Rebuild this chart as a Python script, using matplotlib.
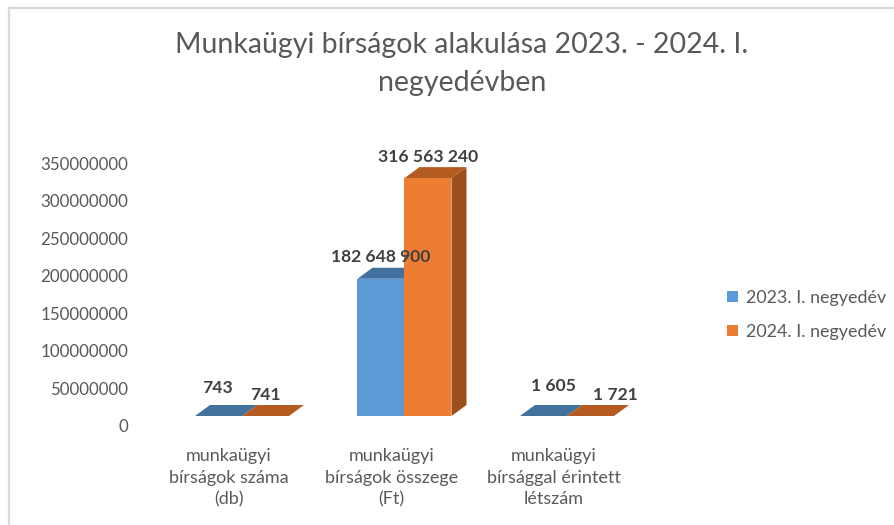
import matplotlib
matplotlib.use("Agg")
import matplotlib.pyplot as plt
from matplotlib.patches import Polygon, Patch
from matplotlib.lines import Line2D
from matplotlib.transforms import ScaledTranslation

plt.rcParams['font.family'] = ['Lato', 'DejaVu Sans']

# ---- data ----
title = "Munkaügyi bírságok alakulása 2023. - 2024. I.\nnegyedévben"
categories = ["munkaügyi\nbírságok száma\n(db)",
              "munkaügyi\nbírságok összege\n(Ft)",
              "munkaügyi\nbírsággal érintett\nlétszám"]
series_names = ["2023. I. negyedév", "2024. I. negyedév"]
values_2023 = [743, 182648900, 1605]
values_2024 = [741, 316563240, 1721]
yticks = [0, 50000000, 100000000, 150000000, 200000000, 250000000, 300000000, 350000000]

# ---- style ----
front_cols = ["#5B9BD5", "#ED7D31"]
top_cols = ["#41719C", "#B35B20"]
side_cols = ["#3E6A93", "#9C4E1B"]
text_grey = "#595959"
label_col = "#404040"

W, H, DPI = 895, 525, 100
fig = plt.figure(figsize=(W / DPI, H / DPI), dpi=DPI)
fig.patch.set_facecolor("white")
renderer = fig.canvas.get_renderer()


def fit_size(text, target_px, weight="normal"):
    t = fig.text(0, 0, text, fontsize=10, fontweight=weight)
    w = t.get_window_extent(renderer).width
    t.remove()
    return 10 * target_px / w


title_fs = fit_size(title.split("\n")[0], 570)
cat_fs = fit_size("bírságok összege", 134)
tick_fs = fit_size("350000000", 88)
leg_fs = fit_size(series_names[0], 140)
lab_fs = fit_size("316 563 240", 100, "bold")

# light grey chart border (top + left visible)
fig.add_artist(Line2D([8.5 / W, 8.5 / W], [0, 1 - 7.5 / H], color="#D9D9D9", lw=1.6,
                      transform=fig.transFigure))
fig.add_artist(Line2D([8.5 / W, 1], [1 - 7.5 / H, 1 - 7.5 / H], color="#D9D9D9", lw=1.6,
                      transform=fig.transFigure))

# axes placement (pixels)
ax_l, ax_r, ax_t, ax_b = 140, 670, 163, 426
ax = fig.add_axes([ax_l / W, 1 - ax_b / H, (ax_r - ax_l) / W, (ax_b - ax_t) / H])
cat_px0, cat_step = 242, 162.5
xlim = ((ax_l - cat_px0) / cat_step, (ax_r - cat_px0) / cat_step)
ylim = (0, 350000000)
ax.set_xlim(*xlim)
ax.set_ylim(*ylim)
for s in ax.spines.values():
    s.set_visible(False)

# pixel -> data conversions
px_x = (xlim[1] - xlim[0]) / (ax_r - ax_l)
px_y = (ylim[1] - ylim[0]) / (ax_b - ax_t)
bar_w = 47 * px_x
dx = 15 * px_x
dy = 11 * px_y

# bars are drawn 10 px above the value-axis baseline (Excel 3D floor)
shift = ax.transData + ScaledTranslation(0, 10 / DPI, fig.dpi_scale_trans)

for i in range(len(categories)):
    for k, vals in enumerate([values_2023, values_2024]):
        x0 = i + (k - 1) * bar_w
        x1 = x0 + bar_w
        v = vals[i]
        side = Polygon([(x1, 0), (x1 + dx, dy), (x1 + dx, v + dy), (x1, v)], closed=True,
                       facecolor=side_cols[k], edgecolor="none", transform=shift)
        ax.add_patch(side)
        top = Polygon([(x0, v), (x1, v), (x1 + dx, v + dy), (x0 + dx, v + dy)], closed=True,
                      facecolor=top_cols[k], edgecolor="none", transform=shift)
        ax.add_patch(top)
        ax.bar([x0], [v], width=bar_w, align="edge", color=front_cols[k],
               edgecolor="none", transform=shift)

# data labels (offsets in px from front-top centre)
label_offsets = [[(-1, 28), (0, 21)],
                 [(0, 22), (0, 21)],
                 [(10, 30), (25, 21)]]
for i in range(len(categories)):
    for k, vals in enumerate([values_2023, values_2024]):
        xc = i + (k - 0.5) * bar_w
        ox, oy = label_offsets[i][k]
        txt = f"{vals[i]:,}".replace(",", " ")
        ax.annotate(txt, xy=(xc, vals[i]), xycoords=shift,
                    xytext=(ox * 72 / DPI, (oy) * 72 / DPI), textcoords="offset points",
                    ha="center", va="center", fontsize=lab_fs, fontweight="bold",
                    color=label_col)

# axes ticks (category labels sit left of bar centres, as in the 3D view)
label_dx = -13 * px_x
ax.set_yticks(yticks)
ax.set_yticklabels([str(t) for t in yticks])
ax.set_xticks([i + label_dx for i in range(len(categories))])
ax.set_xticklabels(categories, linespacing=1.42)
ax.tick_params(axis="y", length=0, pad=8.6, labelsize=tick_fs, labelcolor=text_grey)
ax.tick_params(axis="x", length=0, pad=16, labelsize=cat_fs, labelcolor=text_grey)

# title
fig.text(462 / W, 1 - 64 / H, title, ha="center", va="center", fontsize=title_fs,
         color=text_grey, linespacing=1.55)

# legend
handles = [Patch(facecolor=front_cols[k], edgecolor="none") for k in range(2)]
fig.legend(handles, series_names, loc="center left", bbox_to_anchor=(727 / W, 1 - 315 / H),
           bbox_transform=fig.transFigure, frameon=False, borderpad=0, borderaxespad=0,
           handlelength=0.6, handleheight=0.6, handletextpad=0.45, labelspacing=1.0,
           fontsize=leg_fs, labelcolor=text_grey)

fig.savefig("out.png", dpi=DPI, facecolor="white")
